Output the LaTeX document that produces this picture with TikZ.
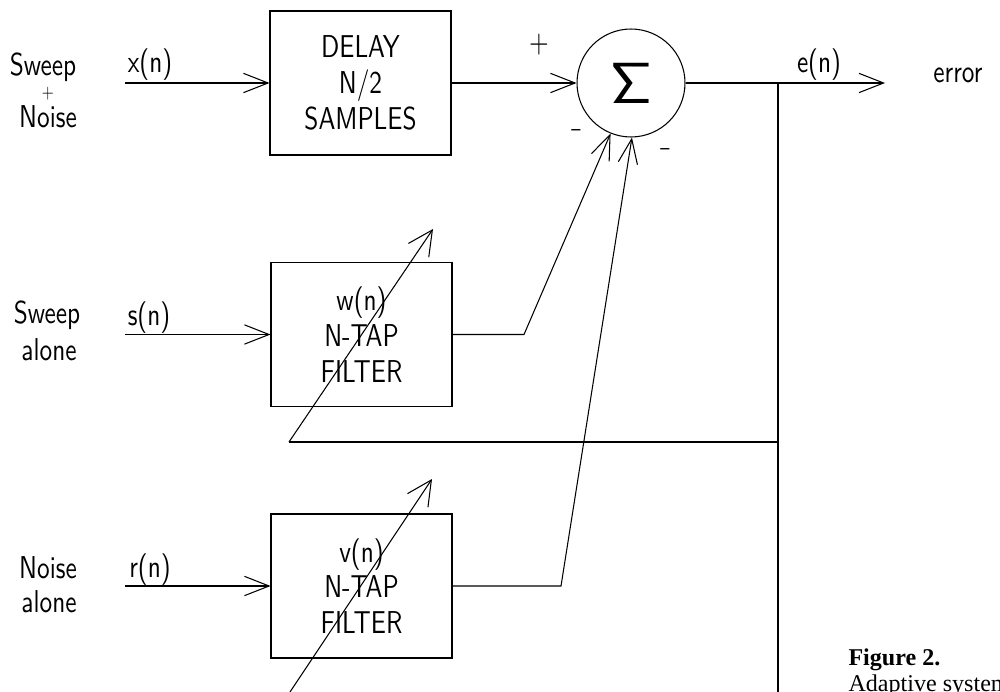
\documentclass[tikz,border=0pt]{standalone}
\usepackage{fontspec}
\usetikzlibrary{arrows.meta}
\newfontfamily\plotfont{lmsans10-regular.otf}[FakeStretch=0.8]
\newfontfamily\capfont{Liberation Serif}
\font\sigmafont=cmss10 at 33pt
\begin{document}
\begin{tikzpicture}[x=0.02cm,y=-0.02cm, line width=0.6pt,
  lbl/.style={font=\plotfont\fontsize{18}{20.4}\selectfont, inner sep=0pt},
  sgn/.style={font=\plotfont\fontsize{13}{14}\selectfont, inner sep=0pt},
  blk/.style={draw, rectangle, minimum width=3.62cm, minimum height=2.88cm,
    align=center, inner sep=0pt, font=\plotfont\fontsize{18}{20.4}\selectfont},
  arr/.style={-{Straight Barb[length=14pt,width=11pt]}},
  adapt/.style={-{Straight Barb[length=14pt,width=14pt]}},
  captxt/.style={font=\capfont\fontsize{13.7}{15}\selectfont, anchor=base west, inner sep=0pt}]
\useasboundingbox (0,0) rectangle (1000,692);
\clip (0,0) rectangle (1000,692);

% blocks
\node[blk] (delay) at (360.5,83) {DELAY\\N/2\\SAMPLES};
\node[blk] (wf) at (361.5,334.5) {w(n)\\N-TAP\\FILTER};
\node[blk] (vf) at (361.5,586) {v(n)\\N-TAP\\FILTER};
\node[draw, circle, minimum size=2.16cm, inner sep=0pt] (sum) at (631,83) {\sigmafont\char6};

% input labels
\node[lbl, anchor=base] (lsw1) at (43,76) {Sweep};
\node[sgn, anchor=base, font=\plotfont\fontsize{11}{12}\selectfont] (lpl) at (48,99) {+};
\node[lbl, anchor=base] (lno1) at (48,128) {Noise};
\node[lbl, anchor=base] (lx) at (150,73) {x(n)};
\node[lbl, anchor=base] (lsw2) at (47,323) {Sweep};
\node[lbl, anchor=base] (lal1) at (49,360) {alone};
\node[lbl, anchor=base] (ls) at (149,325) {s(n)};
\node[lbl, anchor=base] (lno2) at (48,578) {Noise};
\node[lbl, anchor=base] (lal2) at (49,612) {alone};
\node[lbl, anchor=base] (lr) at (150,577) {r(n)};

% inputs
\coordinate (xin) at (125,83);
\coordinate (sin) at (125,334.5);
\coordinate (rin) at (125,586);
\draw[arr] (xin) -- (delay.west);
\draw[arr] (sin) -- (wf.west);
\draw[arr] (rin) -- (vf.west);

% summing junction inputs
\draw[arr] (delay.east) -- (sum.west);
\node[lbl] (sp) at (539,45) {+};
\node[sgn] (sm1) at (576,133) {–};
\node[sgn] (sm2) at (665,152) {–};
\coordinate (wk) at (524,334.5);
\coordinate (vk) at (561,586);
\draw[arr] (wf.east) -- (wk) -- (sum.248);
\draw[arr] (vf.east) -- (vk) -- (sum.271);

% output
\coordinate (j) at (778,83);
\coordinate (eout) at (885,83);
\draw[arr] (sum.east) -- (eout);
\node[lbl, anchor=base] (le) at (819,73) {e(n)};
\node[lbl, anchor=base] (lerr) at (958,83) {error};

% feedback
\coordinate (jb) at (778,692);
\coordinate (jm) at (778,442);
\coordinate (fb) at (289,442);
\coordinate (wt) at (433,229);
\coordinate (vb) at (290,692);
\coordinate (vt) at (432,479);
\draw (j) -- (jb);
\draw (jm) -- (fb);
\draw[adapt] (fb) -- (wt);
\draw[adapt] (vb) -- (vt);

% caption
\node[captxt, font=\capfont\bfseries\fontsize{13.7}{15}\selectfont] (c1) at (848,665) {Figure 2.};
\node[captxt] (c2) at (848,691) {Adaptive system};
\end{tikzpicture}
\end{document}
